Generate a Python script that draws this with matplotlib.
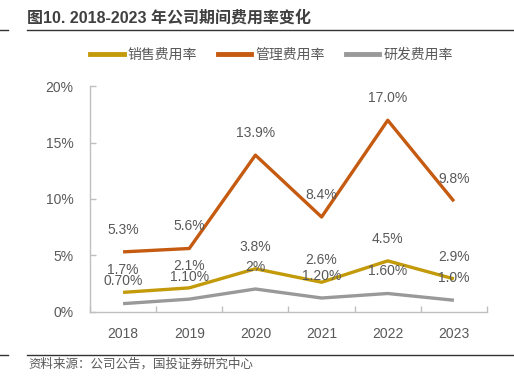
import matplotlib
matplotlib.use("Agg")
import matplotlib.pyplot as plt
from matplotlib.lines import Line2D
import numpy as np

plt.rcParams['font.family'] = ['Liberation Sans', 'Noto Sans CJK SC', 'DejaVu Sans']

years = ['2018', '2019', '2020', '2021', '2022', '2023']
sales = [1.7, 2.1, 3.8, 2.6, 4.5, 2.9]
mgmt = [5.3, 5.6, 13.9, 8.4, 17.0, 9.8]
rnd = [0.7, 1.1, 2.0, 1.2, 1.6, 1.0]
sales_labels = ['1.7%', '2.1%', '3.8%', '2.6%', '4.5%', '2.9%']
mgmt_labels = ['5.3%', '5.6%', '13.9%', '8.4%', '17.0%', '9.8%']
rnd_labels = ['0.70%', '1.10%', '2%', '1.20%', '1.60%', '1.0%']
series_names = ['销售费用率', '管理费用率', '研发费用率']
yticks = [0, 5, 10, 15, 20]
ytick_labels = ['0%', '5%', '10%', '15%', '20%']

c_sales = '#C39A0A'
c_mgmt = '#C55A11'
c_rnd = '#999999'
txt = '#595959'

fig = plt.figure(figsize=(5.14, 3.87), dpi=100)
ax = fig.add_axes([90/514, 1-311.5/387, (487-90)/514, (311.5-86.5)/387])

x = np.arange(len(years))
lw = 2.4
ax.plot(x, sales, color=c_sales, lw=lw, solid_capstyle='butt', zorder=3)
ax.plot(x, mgmt, color=c_mgmt, lw=lw, solid_capstyle='butt', zorder=3)
ax.plot(x, rnd, color=c_rnd, lw=lw, solid_capstyle='butt', zorder=3)

for vals, labs in [(sales, sales_labels), (mgmt, mgmt_labels), (rnd, rnd_labels)]:
    for xi, v, l in zip(x, vals, labs):
        ax.annotate(l, (xi, v), xytext=(0, 16), textcoords='offset points',
                    ha='center', va='center', fontsize=10, color=txt, zorder=4)

ax.set_xlim(-0.5, len(years) - 0.5)
ax.set_ylim(0, 20)
ax.set_yticks(yticks)
ax.set_yticklabels(ytick_labels)
ax.set_xticks(x)
ax.set_xticklabels(years)
ax.set_xticks(np.arange(-0.5, len(years), 1.0), minor=True)
ax.tick_params(axis='x', which='major', length=0, pad=11, labelsize=10, labelcolor=txt)
ax.tick_params(axis='x', which='minor', length=4, direction='in', color='#BFBFBF', width=1)
ax.tick_params(axis='y', length=4, direction='in', color='#BFBFBF', width=1, pad=12,
               labelsize=10, labelcolor=txt)
for s in ['top', 'right']:
    ax.spines[s].set_visible(False)
for s in ['left', 'bottom']:
    ax.spines[s].set_color('#BFBFBF')
    ax.spines[s].set_linewidth(1)

handles = [Line2D([], [], color=c, lw=3.5) for c in (c_sales, c_mgmt, c_rnd)]
fig.legend(handles, series_names, loc='center', bbox_to_anchor=(0.528, 1-55/387),
           ncol=3, frameon=False, handlelength=2.4, handletextpad=0.3,
           columnspacing=1.5, prop={'family': ['Noto Sans CJK SC'], 'size': 10},
           labelcolor=txt)

# title and rules
fig.text(27/514, 1-18/387, '图10. 2018-2023 年公司期间费用率变化', fontsize=11.5,
         fontweight='bold', color='#404040', ha='left', va='center',
         family=['Liberation Sans', 'Noto Sans CJK SC'])
for yy in (30, 355):
    fig.add_artist(Line2D([27/514, 513/514], [1-yy/387]*2, color='#333333', lw=1))
    fig.add_artist(Line2D([0, 8/514], [1-yy/387]*2, color='#333333', lw=1))
fig.text(28/514, 1-364/387, '资料来源：公司公告，国投证券研究中心', fontsize=9,
         color=txt, ha='left', va='center', family=['Noto Sans CJK SC'])

fig.savefig('out.png', dpi=100)
